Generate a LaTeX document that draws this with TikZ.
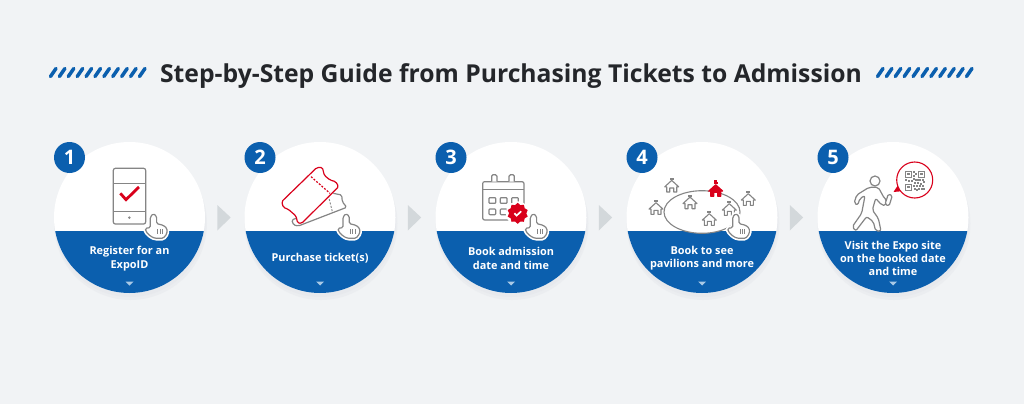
\documentclass[tikz,border=0pt]{standalone}
\usepackage{fontspec}
\setmainfont{Open Sans}
\usepackage{tikz}
\usetikzlibrary{positioning,shapes.geometric}

\definecolor{pagebg}{HTML}{F1F3F5}
\definecolor{expoblue}{HTML}{0B5FAE}
\definecolor{titleink}{HTML}{24262A}
\definecolor{icongray}{HTML}{858585}
\definecolor{expored}{HTML}{D9001B}
\definecolor{nextgray}{HTML}{D3D8DB}
\definecolor{softshade}{HTML}{E7E9ED}
\definecolor{tipblue}{HTML}{A9C9E6}

\newcommand{\handicon}[1]{%
\begin{scope}[shift={(#1)},x=0.3333pt,y=-0.3333pt]
\path[handshape,draw=white,line width=4.5pt,fill=white] (-9,8) -- (-9,40) -- (-24,42) -- (-22,52) -- (-8,66) -- (5,72) -- (30,72) -- (41,58) -- (41,42) -- (30,33) -- (10,28) -- (10,6) -- (0,-2) -- cycle;
\path[handshape,draw=icongray,line width=1.2pt,fill=white] (-9,8) -- (-9,40) -- (-24,42) -- (-22,52) -- (-8,66) -- (5,72) -- (30,72) -- (41,58) -- (41,42) -- (30,33) -- (10,28) -- (10,6) -- (0,-2) -- cycle;
\draw[icongray,line width=0.7pt] (13,45) -- (13,58) (20,45) -- (20,58) (27,45) -- (27,58);
\end{scope}}

\newcommand{\houseicon}[3]{%
\begin{scope}[shift={(#1)}]
\fill[#2] (-2,-7.2) rectangle (2,-5.2);
\draw[#2,line width=1.1pt,fill=#3,line join=round] (-7,1.8) -- (0,-4.6) -- (7,1.8) -- (5,1.8) -- (5,7) -- (2,7) -- (2,3) -- (-2,3) -- (-2,7) -- (-5,7) -- (-5,1.8) -- cycle;
\end{scope}}

\begin{document}
\begin{tikzpicture}[x=1pt,y=-1pt]
\tikzstyle{handshape}=[rounded corners=1.4pt]
\tikzstyle{roundel}=[circle,fill=white,minimum size=151pt,inner sep=0pt]
\tikzstyle{numberdot}=[circle,fill=expoblue,text=white,minimum size=31pt,inner sep=0pt,font=\bfseries\fontsize{20}{20}\selectfont]
\tikzstyle{steplabel}=[align=center,text=white,inner sep=0pt,font=\bfseries\fontsize{10.9}{13.3}\selectfont]
\tikzstyle{headline}=[text=titleink,inner sep=0pt,font=\bfseries\fontsize{24.7}{28}\selectfont]
\tikzstyle{iconline}=[icongray,line width=1.2pt,line join=round]
\tikzstyle{redline}=[expored,line width=1.2pt,line join=round]
\tikzstyle{hatch}=[expoblue,line width=3.5pt,line cap=round]

\fill[pagebg] (0,0) rectangle (1024,404);

\node[headline] (title) at (511,76.5) {Step-by-Step Guide from Purchasing Tickets to Admission};
\foreach \i in {0,...,10} {
\draw[hatch] (50.5+8.9*\i,76.5) -- (56+8.9*\i,68.5);
\draw[hatch] (877.5+8.9*\i,76.5) -- (883+8.9*\i,68.5);
}

\foreach \num/\cx/\txt in {1/129.5/{Register for an\\ExpoID},2/320/{Purchase ticket(s)},3/511/{Book admission\\date and time},4/702/{Book to see\\pavilions and more},5/893/{Visit the Expo site\\on the booked date\\and time}} {
\fill[softshade,opacity=0.55] (\cx+1,223.5) circle (76.5pt);
\fill[softshade] (\cx+0.5,221.5) circle (75.5pt);
\node[roundel] (circ\num) at (\cx,217.5) {};
\begin{scope}
\clip (\cx,217.5) circle (75.5pt);
\fill[expoblue] (\cx-80,231) rectangle (\cx+80,296);
\end{scope}
\node[numberdot] (badge\num) at (\cx-60,157.5) {\num};
\node[steplabel] (label\num) at (\cx,258.5) {\txt};
\fill[tipblue] (\cx-4,281.5) -- (\cx+4,281.5) -- (\cx,285.5) -- cycle;
}
\foreach \cx in {129.5,320,511,702} {
\fill[nextgray] (\cx+87.8,205) -- (\cx+101.2,217.5) -- (\cx+87.8,230.5) -- cycle;
}

\begin{scope}[shift={(40,130)},x=0.3333pt,y=-0.3333pt]
\draw[iconline,rounded corners=2pt] (220,115) rectangle (317,282);
\draw[iconline] (220,160) -- (317,160) (220,245) -- (317,245);
\fill[icongray] (268,263) circle (1.4pt);
\draw[expored,line width=2.8pt] (241,190) -- (258,209) -- (297,171);
\end{scope}
\handicon{153.3,214.3}

\begin{scope}[shift={(235,130)},x=0.3333pt,y=-0.3333pt]
\draw[iconline,rounded corners=1.5pt] (295,190) -- (320,195) -- (322,215) -- (335,232) -- (190,288) -- (176,285) -- (170,270) -- (186,264);
\draw[iconline,line width=0.9pt,dash pattern=on 2pt off 1.5pt] (280,197) -- (292,245);
\draw[redline,fill=white,rounded corners=1.5pt] (140,215) -- (245,113) -- (262,112) -- (268,136) -- (285,150) -- (302,155) -- (311,170) -- (200,280) -- (188,279) -- (183,258) -- (160,238) -- (145,232) -- cycle;
\draw[redline,dash pattern=on 2pt off 1.5pt] (228,140) -- (285,190);
\end{scope}
\handicon{346,214.3}

\begin{scope}[shift={(425,130)},x=0.3333pt,y=-0.3333pt]
\draw[iconline,rounded corners=2pt] (173,155) rectangle (297,270);
\draw[iconline] (173,178) -- (297,178);
\draw[iconline,fill=white,rounded corners=1.5pt] (200,155) -- (200,134) -- (216,134) -- (216,155);
\draw[iconline,fill=white,rounded corners=1.5pt] (252,155) -- (252,134) -- (268,134) -- (268,155);
\foreach \qx in {192,226,260} {\draw[iconline,rounded corners=0.8pt] (\qx,203) rectangle (\qx+20,220);}
\foreach \qx in {192,226} {\draw[iconline,rounded corners=0.8pt] (\qx,237) rectangle (\qx+20,254);}
\end{scope}
\fill[white] (517.7,213.3) circle (12pt);
\node[star,star points=10,star point ratio=1.22,fill=expored,minimum size=21pt,inner sep=0pt] (seal) at (517.7,213.3) {};
\draw[white,line width=1.7pt] (seal.center) ++(-3.3,0) -- ++(2.2,2.3) -- ++(4.6,-4.3);
\handicon{533.3,214.3}

\node[ellipse,draw=icongray,line width=1.1pt,fill=white,minimum width=76pt,minimum height=42.6pt,inner sep=0pt] (fairground) at (702,212) {};
\houseicon{671.7,185}{icongray}{white}
\houseicon{690,201.7}{icongray}{white}
\houseicon{656,207.3}{icongray}{white}
\houseicon{748.3,198.3}{icongray}{white}
\houseicon{729.3,208.3}{icongray}{white}
\houseicon{709.3,218.3}{icongray}{white}
\houseicon{715.7,189.3}{expored}{expored}
\fill[expored] (714.2,179.5) rectangle (717.4,184);
\handicon{735.7,214.3}

\begin{scope}[shift={(845,155)},x=0.3333pt,y=-0.3333pt]
\draw[iconline] (90,78) circle (5pt);
\draw[iconline,rounded corners=2pt] (72,97) -- (100,97) -- (118,130) -- (126,136) -- (122,152) -- (110,150) -- (92,130) -- (82,165) -- (100,190) -- (108,228) -- (92,228) -- (85,200) -- (65,185) -- (32,228) -- (22,215) -- (50,175) -- (60,122) -- (45,130) -- (38,150) -- (27,145) -- (35,120) -- cycle;
\draw[iconline,fill=white,rounded corners=1.5pt] (130,117) -- (142,122) -- (132,153) -- (120,148) -- cycle;
\end{scope}
\fill[expored] (893.5,192) -- (900,182) -- (904,191) -- cycle;
\node[circle,draw=expored,line width=1.1pt,fill=white,minimum size=36pt,inner sep=0pt] (qrbubble) at (914.7,180) {};
\begin{scope}[shift={(905,170.5)}]
\foreach \qx/\qy in {0/0,13/0,0/13} {
\draw[icongray,line width=0.9pt] (\qx+0.5,\qy+0.5) rectangle (\qx+6.5,\qy+6.5);
\fill[icongray] (\qx+2.3,\qy+2.3) rectangle (\qx+4.7,\qy+4.7);
}
\foreach \qx/\qy in {8/0,10/2,8/4,8/7,10/8,12/8,0/8,3/9,6/9,14/8,17/8,18/10,9/11,12/11,15/12,8/14,11/14,14/14,17/14,9/17,13/17,16/17,11/18,18/17} {
\fill[icongray] (\qx,\qy) rectangle (\qx+2,\qy+2);
}
\end{scope}
\end{tikzpicture}
\end{document}
